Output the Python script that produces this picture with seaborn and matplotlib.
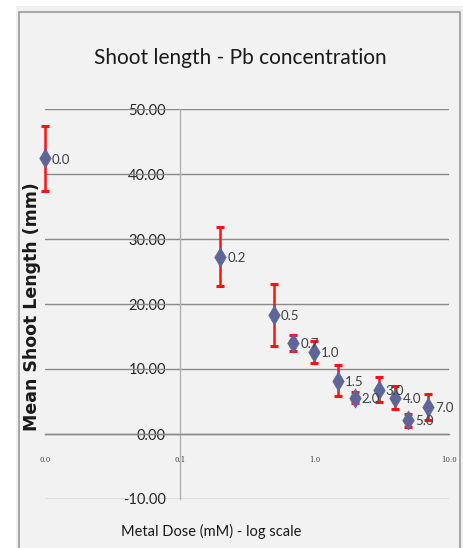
import numpy as np
import pandas as pd
import seaborn as sns
import matplotlib.pyplot as plt
from matplotlib.patches import Rectangle

# ---- data ----
dose_labels = ["0.0", "0.2", "0.5", "0.7", "1.0", "1.5", "2.0", "3.0", "4.0", "5.0", "7.0"]
dose_x = [0.01, 0.2, 0.5, 0.7, 1.0, 1.5, 2.0, 3.0, 4.0, 5.0, 7.0]
mean_len = [42.4, 27.3, 18.3, 14.0, 12.6, 8.2, 5.6, 6.8, 5.6, 2.15, 4.2]
err_len = [5.0, 4.6, 4.8, 1.2, 1.7, 2.4, 0.9, 1.9, 1.8, 1.0, 2.0]
y_ticks = [-10, 0, 10, 20, 30, 40, 50]
x_ticks = [0.01, 0.1, 1.0, 10.0]
x_tick_labels = ["0.0", "0.1", "1.0", "10.0"]

df = pd.DataFrame({"dose": dose_x, "mean": mean_len, "err": err_len, "label": dose_labels})

sns.set_style("white")
FONT = ["Lato", "DejaVu Sans"]
plt.rcParams["font.family"] = FONT

W, H = 463, 548
fig = plt.figure(figsize=(W / 100, H / 100), dpi=100)
fig.patch.set_facecolor("white")

# outer panel
fig.patches.append(Rectangle((16 / W, 0), 1, 1 - 6 / H, transform=fig.transFigure,
                             facecolor="#f0f0f0", edgecolor="none", zorder=-20))
fig.patches.append(Rectangle((19 / W, -0.01), (460 - 19) / W, 1 - 12 / H + 0.01,
                             transform=fig.transFigure, facecolor="#f2f2f2",
                             edgecolor="#9a9a9a", linewidth=1.2, zorder=-10))

ax = fig.add_axes([45 / W, (H - 499) / H, (449 - 45) / W, (499 - 109) / H])
ax.set_facecolor("none")
ax.set_xscale("log")
ax.set_xlim(0.01, 10)
ax.set_ylim(-10, 50)

# gridlines
for yv in y_ticks:
    ax.axhline(yv, color="#8a8a8a", linewidth=1.0, zorder=1)

# spines
for s in ["top", "right"]:
    ax.spines[s].set_visible(False)
ax.spines["left"].set_position(("data", 0.1))
ax.spines["left"].set_color("#b0b0b0")
ax.spines["left"].set_linewidth(1.0)
ax.spines["bottom"].set_position(("data", 0))
ax.spines["bottom"].set_color("#8a8a8a")
ax.spines["bottom"].set_linewidth(1.0)

ax.set_yticks(y_ticks)
ax.set_yticklabels([f"{v:.2f}" for v in y_ticks], fontsize=10.5, color="#262626")
ax.tick_params(axis="y", length=0, pad=10)
ax.set_xticks(x_ticks)
ax.set_xticklabels(x_tick_labels, fontsize=5, color="#404040", family=["DejaVu Serif"])
ax.xaxis.set_minor_locator(plt.NullLocator())
ax.tick_params(axis="x", length=3, direction="out", color="#8a8a8a", pad=13)

# error bars
eb = ax.errorbar(df["dose"], df["mean"], yerr=df["err"], fmt="none", ecolor="#ff1010",
                 elinewidth=1.8, capsize=3, capthick=2.2, zorder=3)
for child in eb.get_children():
    child.set_clip_on(False)

sns.scatterplot(data=df, x="dose", y="mean", marker="d", s=95, color="#5e6698",
                edgecolor="#5e6698", linewidth=0.5, ax=ax, zorder=4, legend=False,
                clip_on=False)

for _, r in df.iterrows():
    ax.annotate(r["label"], (r["dose"], r["mean"]), xytext=(5, -1), textcoords="offset points",
                ha="left", va="center", fontsize=9.5, color="#404040", zorder=5)

ax.set_xlabel("")
ax.set_ylabel("")

fig.text(240 / W, 1 - 58 / H, "Shoot length - Pb concentration", ha="center", va="center",
         fontsize=15, color="#1a1a1a")
fig.text(211 / W, 1 - 531 / H, "Metal Dose (mM) - log scale", ha="center", va="center",
         fontsize=10.5, color="#1a1a1a")
fig.text(32 / W, 1 - 307 / H, "Mean Shoot Length (mm)", ha="center", va="center",
         rotation=90, fontsize=12.5, fontweight="bold", color="#1a1a1a",
         family=["DejaVu Sans"])

fig.savefig("out.png", dpi=100)
